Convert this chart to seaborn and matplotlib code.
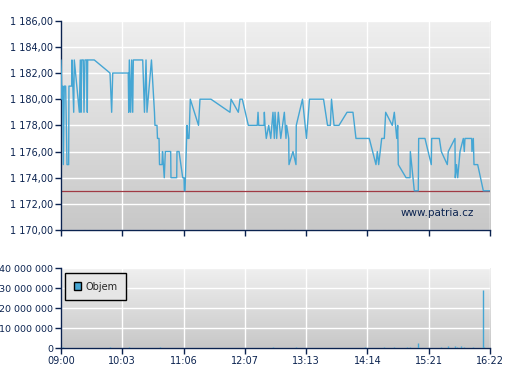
import numpy as np
import pandas as pd
import matplotlib
matplotlib.use("Agg")
import matplotlib.pyplot as plt
from matplotlib.colors import LinearSegmentedColormap
from matplotlib.patches import Patch
import seaborn as sns

# minutes after 09:00 and trade price
minutes = [0, 1.0, 1.75, 2.4, 3.4, 4.8, 6.2, 7.9, 8.2, 11.0, 11.3, 13.1, 13.7, 18.9, 19.9,
           20.6, 21.3, 23.0, 23.7, 24.7, 26.5, 27.1, 27.5, 34.3, 50.5, 52.2, 53.3, 69.3, 69.8,
           70.4, 71.8, 72.8, 73.9, 74.5, 84.2, 86.0, 87.6, 88.6, 93.2, 96.3, 96.8, 98.9, 99.4,
           101.0, 101.5, 104.1, 104.6, 106.4, 107.5, 113.0, 113.3, 119.2, 119.5, 121.6, 125.4,
           126.7, 127.0, 127.8, 129.8, 130.8, 131.9, 133.2, 141.7, 143.2, 154.5, 174.1, 175.2,
           182.7, 184.4, 186.8, 193.0, 202.2, 203.0, 203.7, 209.2, 209.5, 210.2, 211.5, 214.0,
           216.1, 218.4, 219.8, 220.5, 222.2, 223.9, 226.4, 230.1, 231.8, 232.5, 234.6, 234.9,
           239.0, 242.1, 242.4, 248.8, 252.9, 256.0, 270.5, 274.6, 277.5, 278.7, 281.3, 286.4,
           294.7, 300.8, 303.9, 317.6, 324.5, 325.9, 327.3, 330.4, 333.1, 334.5, 341.3, 343.4,
           345.9, 346.9, 347.5, 355.5, 359.6, 359.9, 364.0, 368.1, 368.5, 375.0, 381.5, 381.9,
           389.8, 391.8, 398.0, 399.0, 405.9, 406.2, 407.5, 408.7, 411.1, 414.5, 415.5, 416.2,
           423.1, 423.4, 424.8, 425.5, 429.3, 435.1, 442.0]
prices = [1183, 1180, 1181, 1175, 1181, 1181, 1175, 1175, 1181, 1181, 1183, 1179, 1183, 1179, 1183,
          1179, 1183, 1183, 1179, 1183, 1183, 1179, 1183, 1183, 1182, 1179, 1182, 1182, 1179,
          1183, 1179, 1183, 1179, 1183, 1183, 1179, 1183, 1179, 1183, 1179, 1178, 1178, 1177,
          1177, 1175, 1175, 1176, 1174, 1176, 1176, 1174, 1174, 1176, 1176, 1174,
          1174, 1173, 1173, 1178, 1177, 1177, 1180, 1178, 1180, 1180, 1179, 1180,
          1179, 1180, 1180, 1178, 1178, 1179, 1178, 1178, 1179, 1178, 1177, 1178,
          1177, 1179, 1177, 1179, 1177, 1179, 1177, 1179, 1177, 1178, 1177, 1175,
          1176, 1175, 1178, 1180, 1177, 1180, 1180, 1178, 1178, 1180, 1178, 1178,
          1179, 1179, 1177, 1177, 1175, 1176, 1175, 1177, 1177, 1179, 1178, 1179,
          1177, 1178, 1175, 1174, 1174, 1176, 1173, 1173, 1177, 1177, 1175, 1177,
          1177, 1176, 1175, 1176, 1177, 1174, 1175, 1174, 1176, 1177, 1176, 1177,
          1177, 1176, 1177, 1175, 1175, 1173, 1173]

# volume bars (minutes after 09:00, millions of shares)
vol_minutes = [2.1, 50.8, 69.8, 102.0, 127.8, 130.8, 132.9, 218.7, 242.4, 313.2, 333.1, 343.4,
               356.8, 359.9, 368.1, 391.8, 399.0, 406.2, 408.3, 411.8, 415.5, 424.8, 435.1, 436.1]
vol_millions = [0.3, 0.3, 0.3, 0.3, 0.2, 0.2, 0.2, 0.3, 0.4, 0.4, 0.7, 0.5,
                0.5, 0.5, 2.5, 0.5, 1.0, 1.0, 0.6, 1.0, 0.5, 0.5, 29.0, 0.3]

ref_price = 1173
tick_labels = ["09:00", "10:03", "11:06", "12:07", "13:13", "14:14", "15:21", "16:22"]

navy = "#0b2350"
blue = "#45a6d4"

sns.set_style("white")
plt.rcParams["font.family"] = ["DejaVu Sans"]

fig = plt.figure(figsize=(5.07, 3.80), dpi=100)
ax1 = fig.add_axes([0.1203, 0.3947, 0.8462, 0.5508])
ax2 = fig.add_axes([0.1203, 0.0842, 0.8462, 0.2105])

grad = LinearSegmentedColormap.from_list("bg", ["#c8c8c8", "#efefef"])
xticks = np.linspace(0, 442, 8)

for ax in (ax1, ax2):
    ax.imshow(np.linspace(0, 1, 100).reshape(-1, 1), extent=[0, 1, 0, 1],
              transform=ax.transAxes, cmap=grad, origin="lower", aspect="auto", zorder=0)
    ax.set_axisbelow(True)
    ax.grid(True, color="white", linewidth=1.0)
    for s in ("top", "right"):
        ax.spines[s].set_visible(False)
    for s in ("left", "bottom"):
        ax.spines[s].set_color(navy)
        ax.spines[s].set_linewidth(1.0)
    ax.tick_params(direction="out", length=4, width=1, color=navy, labelcolor=navy,
                   labelsize=7, left=True, bottom=True, pad=1.5)
    ax.set_xlim(0, 442)
    ax.set_xticks(xticks)

df = pd.DataFrame({"minute": minutes, "price": prices})
sns.lineplot(data=df, x="minute", y="price", ax=ax1, color=blue, linewidth=1.0,
             sort=False, estimator=None, zorder=3)
ax1.axhline(ref_price, color="#a03a44", linewidth=0.9, zorder=2)
ax1.set_ylim(1170, 1186)
ax1.set_yticks(np.arange(1170, 1187, 2))
ax1.set_yticklabels([f"{v:,.2f}".replace(",", " ").replace(".", ",") for v in range(1170, 1187, 2)])
ax1.set_xticklabels([])
ax1.set_xlabel("")
ax1.set_ylabel("")
ax1.text(0.878, 0.081, "www.patria.cz", transform=ax1.transAxes, ha="center", va="center",
         fontsize=7.5, color=navy, zorder=4)

ax2.vlines(vol_minutes, 0, [v * 1e6 for v in vol_millions], color=blue, linewidth=1.0, zorder=3)
ax2.set_ylim(0, 40e6)
yt = np.arange(0, 40e6 + 1, 10e6)
ax2.set_yticks(yt)
ax2.set_yticklabels([f"{int(v):,}".replace(",", " ") for v in yt], fontsize=6.8)
ax2.set_xticklabels(tick_labels)

leg = ax2.legend(handles=[Patch(facecolor=blue, edgecolor="black", linewidth=1.0, label="Objem")],
                 loc="upper left", bbox_to_anchor=(0.009, 0.94), borderaxespad=0, fontsize=7,
                 frameon=True, fancybox=False, handlelength=0.8, handleheight=0.8,
                 borderpad=0.9, handletextpad=0.4)
leg.get_frame().set_edgecolor("black")
leg.get_frame().set_facecolor("#e6e6e6")
leg.get_frame().set_linewidth(1.0)
leg.get_frame().set_alpha(1)

fig.savefig("out.png", dpi=100)
